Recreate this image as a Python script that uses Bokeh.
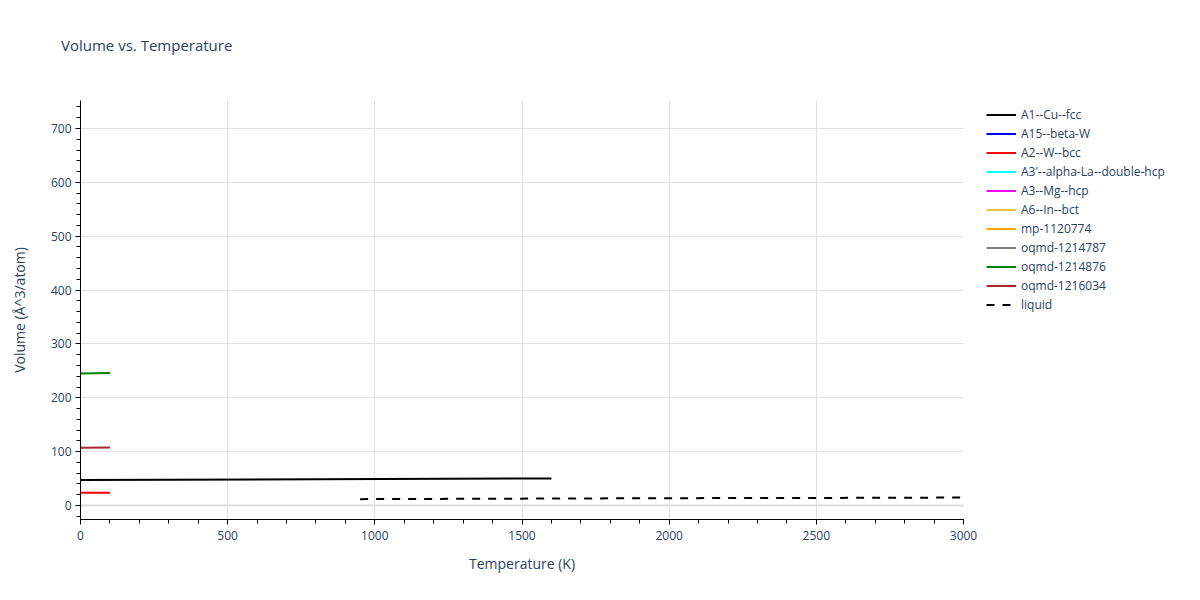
from bokeh.plotting import figure
from bokeh.layouts import column
from bokeh.models import Range1d, Legend, LegendItem, Span, SingleIntervalTicker, Div
from bokeh.embed import file_html
from bokeh.resources import INLINE

# ---- data ----
series_names = ["A1--Cu--fcc", "A15--beta-W", "A2--W--bcc", "A3'--alpha-La--double-hcp",
                "A3--Mg--hcp", "A6--In--bct", "mp-1120774", "oqmd-1214787",
                "oqmd-1214876", "oqmd-1216034", "liquid"]
series_colors = ["black", "blue", "red", "cyan", "magenta", "#EBC33F", "orange",
                 "gray", "green", "brown", "black"]

t_a1 = [0, 1600]
v_a1 = [47.2, 50.3]
t_a15 = []
v_a15 = []
t_a2 = [0, 100]
v_a2 = [23.5, 23.6]
t_a3p = []
v_a3p = []
t_a3 = []
v_a3 = []
t_a6 = []
v_a6 = []
t_mp = []
v_mp = []
t_oq787 = []
v_oq787 = []
t_oq876 = [0, 100]
v_oq876 = [245.3, 245.8]
t_oq034 = [0, 100]
v_oq034 = [107.2, 107.6]
t_liq = [950, 2000, 2500, 3000]
v_liq = [11.8, 13.6, 14.0, 14.8]

xs = [t_a1, t_a15, t_a2, t_a3p, t_a3, t_a6, t_mp, t_oq787, t_oq876, t_oq034, t_liq]
ys = [v_a1, v_a15, v_a2, v_a3p, v_a3, v_a6, v_mp, v_oq787, v_oq876, v_oq034, v_liq]

FONT = "Open Sans"
TXT = "#2a3f5f"
NAN = float("nan")

title = Div(text="Volume vs. Temperature", width=1150, height=60, margin=0,
            styles={"font-family": FONT, "font-size": "15px", "line-height": "18px",
                    "color": TXT, "padding-top": "36px", "padding-left": "61px",
                    "box-sizing": "border-box"})

p = figure(frame_width=883, frame_height=419, output_backend="svg", toolbar_location=None,
           x_range=Range1d(0, 3000), y_range=Range1d(-26, 752),
           min_border_left=80, min_border_right=0, min_border_top=40, min_border_bottom=60)
p.outline_line_color = None
p.background_fill_color = "white"

# zero line
p.add_layout(Span(location=0, dimension="width", line_color="#dddddd", line_width=2, level="underlay"))

items = []
for name, col, x, y in zip(series_names, series_colors, xs, ys):
    dash = "8 8" if name == "liquid" else "solid"
    r = p.line(x if x else [NAN], y if y else [NAN], line_color=col, line_width=2, line_dash=dash)
    items.append(LegendItem(label=name, renderers=[r]))

legend = Legend(items=items, border_line_color=None,
                background_fill_alpha=0, label_text_font=FONT, label_text_font_size="12px",
                label_text_color=TXT, glyph_width=30, glyph_height=19, label_height=19,
                spacing=0, padding=0, margin=0, label_standoff=5)
legend.location = (23, 205)
p.add_layout(legend, "right")

for ax in (p.xaxis[0], p.yaxis[0]):
    ax.axis_line_color = "black"
    ax.axis_line_width = 1
    ax.major_tick_line_color = "black"
    ax.minor_tick_line_color = "black"
    ax.major_tick_out = 5
    ax.major_tick_in = 0
    ax.minor_tick_out = 4
    ax.minor_tick_in = 0
    ax.major_label_text_font = FONT
    ax.major_label_text_font_size = "12px"
    ax.major_label_text_color = TXT
    ax.axis_label_text_font = FONT
    ax.axis_label_text_font_size = "14px"
    ax.axis_label_text_color = TXT
    ax.axis_label_text_font_style = "normal"

p.xaxis.ticker = SingleIntervalTicker(interval=500, num_minor_ticks=5)
p.yaxis.ticker = SingleIntervalTicker(interval=100, num_minor_ticks=5)
p.xaxis.axis_label = "Temperature (K)"
p.yaxis.axis_label = "Volume (Å^3/atom)"
p.xaxis.axis_label_standoff = 11
p.yaxis.axis_label_standoff = 19
p.xaxis.major_label_standoff = 6
p.yaxis.major_label_standoff = 4

p.xgrid.grid_line_color = "#e2e2e2"
p.ygrid.grid_line_color = "#e2e2e2"

layout = column(title, p, spacing=0)
open("out.html", "w").write(file_html(layout, INLINE))
